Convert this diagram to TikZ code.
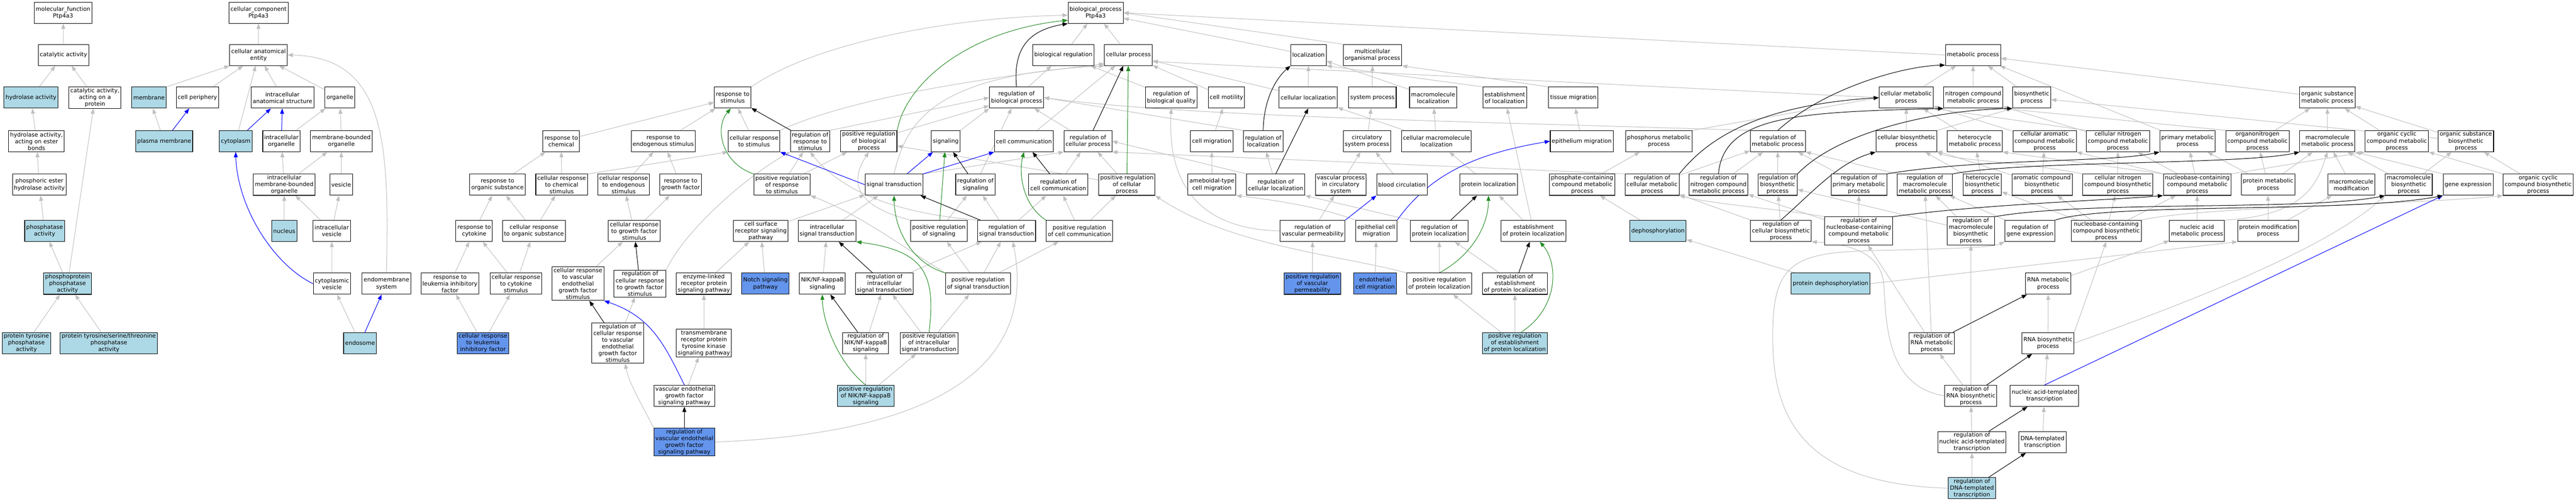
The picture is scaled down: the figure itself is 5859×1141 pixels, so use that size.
\documentclass[tikz,border=0pt]{standalone}
\usepackage{fontspec}
\setmainfont{DejaVu Sans}
\usetikzlibrary{arrows.meta}

\pgfdeclarelayer{background}
\pgfsetlayers{background,main}

\definecolor{isagray}{HTML}{C0C0C0}
\definecolor{posgreen}{HTML}{228B22}
\definecolor{annotblue}{HTML}{ADD8E6}
\definecolor{hitblue}{HTML}{6495ED}

\tikzset{
    term/.style={rectangle, draw=black, line width=1.2pt, fill=white, align=center,
        font=\fontsize{13}{15.3}\selectfont, inner xsep=3.5pt, inner ysep=2.5pt,
        minimum height=48pt},
    annot/.style={term, fill=annotblue},
    hit/.style={term, fill=hitblue},
    link/.style={line width=1.2pt, -{Triangle[length=12pt, width=9pt]}},
    isa/.style={link, color=isagray},
    partof/.style={link, color=blue},
    regulates/.style={link, color=black},
    posreg/.style={link, color=posgreen},
}

\begin{document}
\begin{tikzpicture}[x=1pt, y=-1pt]
    \useasboundingbox (0,0) rectangle (5859,1141);


    % molecular function
    \node[term] (mf) at (143.5,29) {molecular\_function\\Ptp4a3};
    \node[term] (catact) at (144.5,125) {catalytic activity};
    \node[annot] (hydro) at (70.5,222) {hydrolase activity};
    \node[term] (catprot) at (216,222) {catalytic activity,\\acting on a\\protein};
    \node[term] (hydroester) at (83,321) {hydrolase activity,\\acting on ester\\bonds};
    \node[term] (phosester) at (89.5,420) {phosphoric ester\\hydrolase activity};
    \node[annot] (phosphatase) at (101.5,525) {phosphatase\\activity};
    \node[annot] (phosphoprot) at (153.5,645) {phosphoprotein\\phosphatase\\activity};
    \node[annot] (ptp) at (60,780) {protein tyrosine\\phosphatase\\activity};
    \node[annot] (ptpst) at (247.5,780) {protein tyrosine/serine/threonine\\phosphatase\\activity};


    % cellular component
    \node[term] (cc) at (588,29) {cellular\_component\\Ptp4a3};
    \node[term] (cae) at (588,125) {cellular anatomical\\entity};
    \node[annot] (membrane) at (339,222) {membrane};
    \node[term] (cellper) at (449,222) {cell periphery};
    \node[term] (ias) at (642.5,222) {intracellular\\anatomical structure};
    \node[term] (organelle) at (773,222) {organelle};
    \node[annot] (pm) at (373.5,321) {plasma membrane};
    \node[annot] (cyto) at (536,321) {cytoplasm};
    \node[term] (io) at (640,321) {intracellular\\organelle};
    \node[term] (mbo) at (776.5,321) {membrane-bounded\\organelle};
    \node[term] (imbo) at (646.5,420) {intracellular\\membrane-bounded\\organelle};
    \node[term] (vesicle) at (776,420) {vesicle};
    \node[annot] (nucleus) at (646.5,525) {nucleus};
    \node[term] (ivesicle) at (754.5,525) {intracellular\\vesicle};
    \node[term] (cytovesicle) at (755,645) {cytoplasmic\\vesicle};
    \node[term] (endomem) at (879,645) {endomembrane\\system};
    \node[annot] (endosome) at (819,780) {endosome};


    % biological process, upper levels
    \node[term] (bp) at (2492,29) {biological\_process\\Ptp4a3};
    \node[term] (bioreg) at (2418.5,125) {biological regulation};
    \node[term] (cellproc) at (2566.5,125) {cellular process};
    \node[term] (loc) at (2976,125) {localization};
    \node[term] (multi) at (3121.5,125) {multicellular\\organismal process};
    \node[term] (metab) at (4487.5,125) {metabolic process};

    \node[term] (respstim) at (1666.5,222) {response to\\stimulus};
    \node[term] (regbp) at (2312,222) {regulation of\\biological process};
    \node[term] (regbq) at (2664,222) {regulation of\\biological quality};
    \node[term] (cellmot) at (2789.5,222) {cell motility};
    \node[term] (cellloc) at (2975.5,222) {cellular localization};
    \node[term] (sysproc) at (3121.5,222) {system process};
    \node[term] (macroloc) at (3259.5,222) {macromolecule\\localization};
    \node[term] (estloc) at (3422.5,222) {establishment\\of localization};
    \node[term] (tissmig) at (3578.5,222) {tissue migration};
    \node[term] (cellmet) at (4335.5,222) {cellular metabolic\\process};
    \node[term] (nitmet) at (4488,222) {nitrogen compound\\metabolic process};
    \node[term] (biosyn) at (4621,222) {biosynthetic\\process};
    \node[term] (orgsubmet) at (5293.5,222) {organic substance\\metabolic process};


    % fourth level
    \node[term] (respchem) at (1276.5,321) {response to\\chemical};
    \node[term] (respendo) at (1508.5,321) {response to\\endogenous stimulus};
    \node[term] (cellrespstim) at (1715,321) {cellular response\\to stimulus};
    \node[term] (regrespstim) at (1842.5,321) {regulation of\\response to\\stimulus};
    \node[term] (posregbp) at (1976,321) {positive regulation\\of biological\\process};
    \node[term] (signaling) at (2151,321) {signaling};
    \node[term] (cellcomm) at (2329,321) {cell communication};
    \node[term] (regcp) at (2474.5,321) {regulation of\\cellular process};
    \node[term] (cellmig) at (2756,321) {cell migration};
    \node[term] (regloc) at (2873,321) {regulation of\\localization};
    \node[term] (circ) at (3109,321) {circulatory\\system process};
    \node[term] (cellmacroloc) at (3267,321) {cellular macromolecule\\localization};
    \node[term] (epimig) at (3597.5,321) {epithelium migration};
    \node[term] (phosmet) at (3773,321) {phosphorus metabolic\\process};
    \node[term] (regmet) at (4043.5,321) {regulation of\\metabolic process};
    \node[term] (cellbiosyn) at (4336,321) {cellular biosynthetic\\process};
    \node[term] (hetmet) at (4491.5,321) {heterocycle\\metabolic process};
    \node[term] (cellarom) at (4650.5,321) {cellular aromatic\\compound metabolic\\process};
    \node[term] (cellnit) at (4817,321) {cellular nitrogen\\compound metabolic\\process};
    \node[term] (primmet) at (4975.5,321) {primary metabolic\\process};
    \node[term] (orgnit) at (5134.5,321) {organonitrogen\\compound metabolic\\process};
    \node[term] (macromet) at (5293.5,321) {macromolecule\\metabolic process};
    \node[term] (orgcyc) at (5451.5,321) {organic cyclic\\compound metabolic\\process};
    \node[term] (orgsubbio) at (5608.5,321) {organic substance\\biosynthetic\\process};


    % fifth level
    \node[term] (resporg) at (1131.5,420) {response to\\organic substance};
    \node[term] (crchem) at (1277.5,420) {cellular response\\to chemical\\stimulus};
    \node[term] (crendo) at (1418.5,420) {cellular response\\to endogenous\\stimulus};
    \node[term] (respgf) at (1548,420) {response to\\growth factor};
    \node[term] (posregrs) at (1778.5,420) {positive regulation\\of response\\to stimulus};
    \node[term] (sigtrans) at (2033.5,420) {signal transduction};
    \node[term] (regsig) at (2218.5,420) {regulation of\\signaling};
    \node[term] (regcc) at (2407,420) {regulation of\\cell communication};
    \node[term] (posregcp) at (2563,420) {positive regulation\\of cellular\\process};
    \node[term] (ameb) at (2756.5,420) {ameboidal-type\\cell migration};
    \node[term] (regcellloc) at (2901.5,420) {regulation of\\cellular localization};
    \node[term] (vascproc) at (3049.5,420) {vascular process\\in circulatory\\system};
    \node[term] (bloodcirc) at (3188.5,420) {blood circulation};
    \node[term] (protloc) at (3385.5,420) {protein localization};
    \node[term] (phosphate) at (3598.5,420) {phosphate-containing\\compound metabolic\\process};
    \node[term] (regcellmet) at (3757.5,420) {regulation of\\cellular metabolic\\process};
    \node[term] (regnitmet) at (3908.5,420) {regulation of\\nitrogen compound\\metabolic process};
    \node[term] (regbiosyn) at (4043,420) {regulation of\\biosynthetic\\process};
    \node[term] (regprimmet) at (4228,420) {regulation of\\primary metabolic\\process};
    \node[term] (regmacromet) at (4378,420) {regulation of\\macromolecule\\metabolic process};
    \node[term] (hetbio) at (4509,420) {heterocycle\\biosynthetic\\process};
    \node[term] (arombio) at (4644.5,420) {aromatic compound\\biosynthetic\\process};
    \node[term] (cellnitbio) at (4817,420) {cellular nitrogen\\compound biosynthetic\\process};
    \node[term] (nucmet) at (4997.5,420) {nucleobase-containing\\compound metabolic\\process};
    \node[term] (protmet) at (5158.5,420) {protein metabolic\\process};
    \node[term] (macromod) at (5348,420) {macromolecule\\modification};
    \node[term] (macrobio) at (5478.5,420) {macromolecule\\biosynthetic\\process};
    \node[term] (geneexp) at (5613.5,420) {gene expression};
    \node[term] (orgcycbio) at (5773,420) {organic cyclic\\compound biosynthetic\\process};


    % sixth level
    \node[term] (respcyt) at (1078.5,525) {response to\\cytokine};
    \node[term] (crorg) at (1214.5,525) {cellular response\\to organic substance};
    \node[term] (crgf) at (1442.5,525) {cellular response\\to growth factor\\stimulus};
    \node[term] (csrsp) at (1730.5,525) {cell surface\\receptor signaling\\pathway};
    \node[term] (ist) at (1881,525) {intracellular\\signal transduction};
    \node[term] (posregsig) at (2135.5,525) {positive regulation\\of signaling};
    \node[term] (regst) at (2289.5,525) {regulation of\\signal transduction};
    \node[term] (posregcc) at (2455,525) {positive regulation\\of cell communication};
    \node[term] (regvp) at (2985.5,525) {regulation of\\vascular permeability};
    \node[term] (epicellmig) at (3130.5,525) {epithelial cell\\migration};
    \node[term] (regprotloc) at (3273.5,525) {regulation of\\protein localization};
    \node[term] (estprotloc) at (3488,525) {establishment\\of protein localization};
    \node[annot] (dephos) at (3771,525) {dephosphorylation};
    \node[term] (regcellbio) at (4050.5,525) {regulation of\\cellular biosynthetic\\process};
    \node[term] (regnucmet) at (4227.5,525) {regulation of\\nucleobase-containing\\compound metabolic\\process};
    \node[term] (regmacrobio) at (4482.5,525) {regulation of\\macromolecule\\biosynthetic\\process};
    \node[term] (reggeneexp) at (4617,525) {regulation of\\gene expression};
    \node[term] (nucbio) at (4790.5,525) {nucleobase-containing\\compound biosynthetic\\process};
    \node[term] (nucacid) at (4997,525) {nucleic acid\\metabolic process};
    \node[term] (protmod) at (5158.5,525) {protein modification\\process};


    % seventh level
    \node[term] (resplif) at (1023.5,645) {response to\\leukemia inhibitory\\factor};
    \node[term] (crcyt) at (1173.5,645) {cellular response\\to cytokine\\stimulus};
    \node[term] (crvegf) at (1314.5,645) {cellular response\\to vascular\\endothelial\\growth factor\\stimulus};
    \node[term] (regcrgf) at (1455.5,645) {regulation of\\cellular response\\to growth factor\\stimulus};
    \node[term] (elrp) at (1601,645) {enzyme-linked\\receptor protein\\signaling pathway};
    \node[hit] (notch) at (1741,645) {Notch signaling\\pathway};
    \node[term] (nik) at (1870.5,645) {NIK/NF-kappaB\\signaling};
    \node[term] (regist) at (2011.5,645) {regulation of\\intracellular\\signal transduction};
    \node[term] (posregst) at (2224.5,645) {positive regulation\\of signal transduction};
    \node[hit] (posregvp) at (2985,645) {positive regulation\\of vascular\\permeability};
    \node[hit] (endocellmig) at (3127.5,645) {endothelial\\cell migration};
    \node[term] (posregprotloc) at (3273.5,645) {positive regulation\\of protein localization};
    \node[term] (regestprotloc) at (3445.5,645) {regulation of\\establishment\\of protein localization};
    \node[annot] (protdephos) at (4163.5,645) {protein dephosphorylation};
    \node[term] (rnamet) at (4658.5,645) {RNA metabolic\\process};


    % lowest levels
    \node[hit] (crlif) at (1098.5,780) {cellular response\\to leukemia\\inhibitory factor};
    \node[term] (regcrvegf) at (1405,780) {regulation of\\cellular response\\to vascular\\endothelial\\growth factor\\stimulus};
    \node[term] (tmrtk) at (1601,780) {transmembrane\\receptor protein\\tyrosine kinase\\signaling pathway};
    \node[term] (regnik) at (1969,780) {regulation of\\NIK/NF-kappaB\\signaling};
    \node[term] (posregist) at (2113,780) {positive regulation\\of intracellular\\signal transduction};
    \node[annot] (posregestprotloc) at (3445.5,780) {positive regulation\\of establishment\\of protein localization};
    \node[term] (regrnamet) at (4393.5,780) {regulation of\\RNA metabolic\\process};
    \node[term] (rnabio) at (4658,780) {RNA biosynthetic\\process};

    \node[term] (vegf) at (1556.5,900) {vascular endothelial\\growth factor\\signaling pathway};
    \node[annot] (posregnik) at (1969,900) {positive regulation\\of NIK/NF-kappaB\\signaling};
    \node[term] (regrnabio) at (4482.5,900) {regulation of\\RNA biosynthetic\\process};
    \node[term] (nat) at (4650,900) {nucleic acid-templated\\transcription};

    \node[hit] (regvegf) at (1556.5,1005) {regulation of\\vascular endothelial\\growth factor\\signaling pathway};
    \node[term] (regnat) at (4485,1005) {regulation of\\nucleic acid-templated\\transcription};
    \node[term] (dnat) at (4645.5,1005) {DNA-templated\\transcription};

    \node[annot] (regdnat) at (4485,1110) {regulation of\\DNA-templated\\transcription};


    \begin{pgfonlayer}{background}
        \fill[white] (0,0) rectangle (5859,1141);

        % is_a
        \foreach \a/\b in {catact/mf, hydro/catact, catprot/catact, hydroester/hydro,
            phosester/hydroester, phosphatase/phosester, phosphoprot/phosphatase,
            phosphoprot/catprot, ptp/phosphoprot, ptpst/phosphoprot,
            cae/cc, membrane.north east/cae.south west, cellper/cae, cyto/cae, ias/cae,
            organelle/cae, pm/membrane, io/organelle, mbo/organelle, imbo/io, imbo/mbo,
            vesicle/mbo, nucleus/imbo, ivesicle/imbo, ivesicle/vesicle,
            cytovesicle/ivesicle, endosome/cytovesicle}
            \draw[isa] (\a) -- (\b);
        \foreach \a/\b in {bioreg/bp, cellproc/bp, loc/bp, multi.north west/bp.east,
            metab.west/bp.east, regbp/bioreg, regbq/bioreg, cellmot/cellproc,
            cellloc/cellproc, cellloc/loc, cellcomm/cellproc, regcp/regbp, posregbp/regbp,
            regrespstim.north east/regbp.west, regloc.north west/regbp.east,
            signaling.north east/regbp.south west, regsig/regbp, sysproc/multi,
            macroloc/loc, estloc.north west/loc.south east, tissmig.north west/multi.south east,
            cellmig/cellmot, respchem/respstim, respendo/respstim, cellrespstim/respstim,
            resporg/respchem, crchem/respchem, crchem.north east/cellrespstim.south west,
            crendo/respendo, respgf/respendo, posregrs/regrespstim, posregrs/posregbp,
            posregcp/regcp, posregcp/posregbp, regcc/regcp, sigtrans.north east/regcp.south west,
            ameb/cellmig, regcellloc/regloc, regcellloc.north west/regcp.east,
            vascproc/circ, bloodcirc/circ, circ/sysproc, cellmacroloc/macroloc,
            cellmacroloc/cellloc, protloc/cellmacroloc, epimig/tissmig, phosphate/phosmet,
            phosmet.north east/cellmet.west, regcellmet/regmet, regnitmet/regmet,
            regcellmet.north west/regcp.south east, cellmet.west/cellproc.-15,
            estprotloc/protloc, estprotloc/estloc, regprotloc.north west/regcellloc.south east,
            respcyt/resporg, crorg/resporg, crorg/crchem, crgf/crendo, crgf/respgf,
            csrsp/sigtrans, ist/sigtrans, regst/regsig, regst/regcc, posregsig/regsig,
            posregcc/regcc, posregcc/posregcp, regvp/vascproc, dephos/phosphate,
            resplif/respcyt, crcyt/respcyt, crcyt/crorg, crvegf/crgf, regcrvegf/regcrgf,
            elrp/csrsp, notch/csrsp, nik/ist, regist/regst, posregst/posregsig,
            posregst/regst, posregst/posregcc, posregvp/regvp, endocellmig/epicellmig,
            posregprotloc/regprotloc, regestprotloc/regprotloc,
            posregestprotloc/posregprotloc, posregestprotloc/regestprotloc,
            protdephos/dephos, protdephos.east/protmod.south west, crlif/resplif,
            crlif/crcyt, tmrtk/elrp, regnik/regist, posregist/regist, posregist/posregst,
            vegf/tmrtk, posregnik/regnik, posregnik/posregist}
            \draw[isa] (\a) -- (\b);
        \foreach \a/\b in {cellmet/metab, nitmet/metab, biosyn/metab, primmet/metab,
            orgsubmet/metab, cellbiosyn/cellmet, cellbiosyn.north east/biosyn.south west,
            hetmet/cellmet, cellarom/cellmet, cellnit.north west/cellmet.south east,
            cellnit/nitmet, orgnit.north west/nitmet.south east, orgnit/orgsubmet,
            macromet/orgsubmet, orgcyc/orgsubmet, orgsubbio/orgsubmet, orgsubbio/biosyn,
            regbiosyn/regmet, regprimmet/regmet, regmacromet.north west/regmet.south east,
            hetbio/hetmet, hetbio/cellbiosyn, arombio/cellarom, arombio/cellbiosyn,
            cellnitbio/cellnit, nucmet.north west/cellarom.south east,
            nucmet.north west/hetmet.south east, nucmet/cellnit, nucmet/primmet,
            nucmet.north east/orgcyc.south west, protmet/primmet, protmet/orgnit,
            protmet/macromet, macromod/macromet, macrobio/macromet, macrobio/orgsubbio,
            geneexp.north west/macromet.south east, orgcycbio.north west/orgcyc.south east,
            orgcycbio/orgsubbio, regcellbio/regbiosyn, regcellbio/regcellmet,
            regnucmet/regprimmet, regnucmet/regnitmet, regmacrobio/regmacromet,
            regmacrobio/regbiosyn, reggeneexp/regmacromet, nucbio/hetbio, nucbio/arombio,
            nucbio/cellnitbio, nucbio/nucmet, nucacid/nucmet, protmod/protmet,
            protmod/macromod, rnamet/nucacid, regrnamet/regnucmet, regrnamet/regmacromet,
            rnabio/rnamet, rnabio.north east/nucbio.south, regrnabio/regrnamet,
            regrnabio/regmacrobio, nat/rnabio, regnat/regrnabio, dnat/nat, regdnat/regnat}
            \draw[isa] (\a) -- (\b);

        % is_a, routed round other terms
        \draw[isa] (endomem.north) .. controls (885,330) and (880,130) .. (cae.east);
        \draw[isa] (respstim.north east) .. controls (1850,100) and (2150,40) .. (bp.185);
        \draw[isa] (cellrespstim.north east) .. controls (1950,215) and (2300,170) .. (cellproc.200);
        \draw[isa] (sigtrans.north) .. controls (2060,280) and (2120,170) .. (cellproc.south west);
        \draw[isa] (regmet.north west) .. controls (3300,275) and (2700,265) .. (regbp.east);
        \draw[isa] (regcrgf.north east) .. controls (1560,520) and (1700,400) .. (regrespstim.south west);
        \draw[isa] (regst.north west) .. controls (2100,490) and (1935,460) .. (regrespstim.south);
        \draw[isa] (posregsig.north west) .. controls (1990,480) and (1915,440) .. (posregbp.south);
        \draw[isa] (posregst.north west) .. controls (2050,560) and (1960,490) .. (posregrs.south east);
        \draw[isa] (regvegf.north west) .. controls (1460,920) and (1430,870) .. (regcrvegf.-70);
        \draw[isa] (regvegf.east) .. controls (2250,980) and (2345,760) .. (regst.-60);
        \draw[isa] (regvp.west) .. controls (2660,520) and (2660,330) .. (regbq.south);
        \draw[isa] (epicellmig.north west) .. controls (3000,470) and (2900,455) .. (ameb.south east);
        \draw[isa] (posregprotloc.north west) .. controls (3050,580) and (2800,560) .. (posregcp.south east);
        \draw[isa] (cellnitbio.north west) .. controls (4600,368) and (4450,365) .. (cellbiosyn.south east);
        \draw[isa] (regnucmet.north west) .. controls (4050,475) and (3900,465) .. (regcellmet.south east);
        \draw[isa] (nucacid.north east) .. controls (5240,490) and (5270,420) .. (macromet.south);
        \draw[isa] (nucbio.north east) .. controls (5000,470) and (5500,465) .. (orgcycbio.south west);
        \draw[isa] (rnabio.east) .. controls (5000,680) and (5300,560) .. (macrobio.south west);
        \draw[isa] (regrnabio.west) .. controls (4300,880) and (4290,760) .. (4285,650)
            .. controls (4280,570) and (4200,555) .. (regcellbio.south east);
        \draw[isa] (regdnat.west) .. controls (4100,1100) and (4030,950) .. (4032,760)
            .. controls (4032,600) and (4080,575) .. (4250,570)
            .. controls (4450,565) and (4530,563) .. (reggeneexp.south west);

        % part_of
        \foreach \a/\b in {pm/cellper, cyto/ias, io/ias, endosome/endomem,
            sigtrans.west/cellrespstim.south east, sigtrans/signaling,
            sigtrans.north east/cellcomm.south west, regvp.north east/bloodcirc.south west,
            nat.north/geneexp.south west}
            \draw[partof] (\a) -- (\b);
        \draw[partof] (cytovesicle.west) .. controls (620,600) and (540,470) .. (cyto.south);
        \draw[partof] (epicellmig.north east) .. controls (3250,400) and (3350,350) .. (epimig.west);
        \draw[partof] (vegf.north) .. controls (1510,780) and (1480,720) .. (crvegf.south east);

        % regulates
        \foreach \a/\b in {regrespstim/respstim, regcp/cellproc, regsig/signaling,
            regcc/cellcomm, regst/sigtrans, regcellloc.north/cellloc.south, regcrgf/crgf,
            regcrvegf/crvegf, regvegf/vegf, regist/ist, regnik/nik, regprotloc/protloc,
            regestprotloc/estprotloc, regrnamet/rnamet, regrnabio/rnabio, regnat/nat,
            regdnat/dnat}
            \draw[regulates] (\a) -- (\b);
        \draw[regulates] (regbp.north) .. controls (2305,120) and (2330,70) .. (bp.south west);
        \draw[regulates] (regloc.north) .. controls (2874,230) and (2900,180) .. (loc.south west);
        \draw[regulates] (regcellmet.north east) .. controls (3880,320) and (3990,240) .. (cellmet.west);
        \draw[regulates] (regnitmet.north) .. controls (3920,260) and (4100,255) .. (nitmet.south west);
        \draw[regulates] (regmet.north) .. controls (4150,200) and (4330,150) .. (metab.200);
        \draw[regulates] (regbiosyn.north east) .. controls (4180,300) and (4400,250) .. (biosyn.south west);
        \draw[regulates] (regcellbio.north) .. controls (4120,440) and (4180,370) .. (cellbiosyn.south west);
        \draw[regulates] (regprimmet.north east) .. controls (4500,360) and (4800,370) .. (primmet.south west);
        \draw[regulates] (regmacromet.north east) .. controls (4600,365) and (5100,375) .. (macromet.south west);
        \draw[regulates] (regnucmet.north east) .. controls (4500,465) and (4800,455) .. (nucmet.south west);
        \draw[regulates] (regmacrobio.north east) .. controls (4750,455) and (5250,480) .. (macrobio.south west);
        \draw[regulates] (reggeneexp.north east) .. controls (4800,460) and (5350,485) .. (geneexp.south west);

        % positively regulates
        \draw[posreg] (posregcp) -- (cellproc);
        \draw[posreg] (posregsig) -- (signaling);
        \draw[posreg] (posregbp.north east) .. controls (2060,190) and (2200,70) .. (bp.195);
        \draw[posreg] (posregrs.north west) .. controls (1640,370) and (1625,290) .. (respstim.-100);
        \draw[posreg] (posregcc.north west) .. controls (2330,470) and (2315,400) .. (cellcomm.south);
        \draw[posreg] (posregst.north west) .. controls (2080,600) and (2035,530) .. (sigtrans.south);
        \draw[posreg] (posregist.north) .. controls (2130,620) and (2100,570) .. (ist.south east);
        \draw[posreg] (posregnik.north) .. controls (1900,820) and (1870,720) .. (nik.south);
        \draw[posreg] (posregprotloc.north) .. controls (3340,585) and (3385,520) .. (protloc.south);
        \draw[posreg] (posregestprotloc.60) .. controls (3545,700) and (3545,600) .. (estprotloc.-60);
    \end{pgfonlayer}

\end{tikzpicture}
\end{document}
